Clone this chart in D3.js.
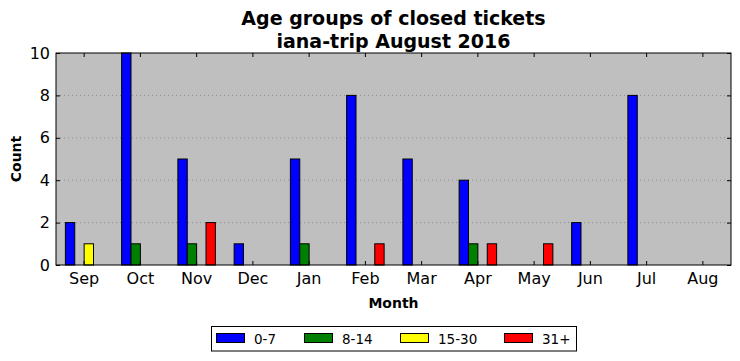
<!DOCTYPE html>
<html><head><meta charset="utf-8">
<script src="https://cdn.jsdelivr.net/npm/d3@7"></script>
<style>body{margin:0;background:#fff}svg{display:block;font-family:"DejaVu Sans",sans-serif}</style>
</head><body><svg id="c" width="740" height="361"></svg>
<script>
const months = ["Sep","Oct","Nov","Dec","Jan","Feb","Mar","Apr","May","Jun","Jul","Aug"];
const seriesNames = ["0-7","8-14","15-30","31+"];
const seriesColors = ["#0000ff","#008000","#ffff00","#ff0000"];
const age0_7   = [2,10,5,1,5,8,5,4,0,2,8,0];
const age8_14  = [0,1,1,0,1,0,0,1,0,0,0,0];
const age15_30 = [1,0,0,0,0,0,0,0,0,0,0,0];
const age31p   = [0,0,2,0,0,1,0,1,1,0,0,0];
const series = [age0_7, age8_14, age15_30, age31p];
const yTicks = [0,2,4,6,8,10];

const svg = d3.select("#c");
const L=56, R=731, T=53, B=265;
const x = d3.scaleBand().domain(months).range([L,R]).paddingInner(0).paddingOuter(0);
const bw = x.bandwidth()/6;
const y = d3.scaleLinear().domain([0,10]).range([B,T]);

svg.append("rect").attr("x",L).attr("y",T).attr("width",R-L).attr("height",B-T).attr("fill","#bfbfbf");

// grid
svg.append("g").selectAll("line").data(yTicks.filter(v=>v>0&&v<10)).join("line")
  .attr("x1",L).attr("x2",R).attr("y1",d=>y(d)).attr("y2",d=>y(d))
  .attr("stroke","#808080").attr("stroke-width",0.8).attr("stroke-dasharray","1,3");

// bars
series.forEach((vals,si)=>{
  svg.append("g").selectAll("rect").data(vals).join("rect")
    .attr("x",(d,i)=>x(months[i])+bw*(1+si))
    .attr("width",bw)
    .attr("y",d=>y(d))
    .attr("height",d=>y(0)-y(d))
    .attr("fill",seriesColors[si])
    .attr("stroke","#000").attr("stroke-width",1);
});

// frame
svg.append("rect").attr("x",L).attr("y",T).attr("width",R-L).attr("height",B-T)
  .attr("fill","none").attr("stroke","#000").attr("stroke-width",1);

// axes with inward ticks
const xb = d3.axisBottom(x).tickSize(-4).tickPadding(8);
const gx = svg.append("g").attr("transform",`translate(0,${B})`).call(xb);
gx.select(".domain").remove();
gx.selectAll("text").attr("font-size",16).attr("fill","#000").attr("font-family","DejaVu Sans");
const gxt = svg.append("g").attr("transform",`translate(0,${T})`).call(d3.axisTop(x).tickSize(-4).tickFormat(""));
gxt.select(".domain").remove();

const yl = d3.axisLeft(y).tickValues(yTicks).tickSize(-4).tickPadding(6).tickFormat(d3.format("d"));
const gy = svg.append("g").attr("transform",`translate(${L},0)`).call(yl);
gy.select(".domain").remove();
gy.selectAll("text").attr("font-size",16).attr("fill","#000").attr("font-family","DejaVu Sans");
const gyr = svg.append("g").attr("transform",`translate(${R},0)`).call(d3.axisRight(y).tickValues(yTicks).tickSize(-4).tickFormat(""));
gyr.select(".domain").remove();

// titles
const cx=(L+R)/2;
svg.append("text").attr("x",cx).attr("y",25).attr("text-anchor","middle").attr("font-size",19).attr("font-weight","bold").text("Age groups of closed tickets");
svg.append("text").attr("x",cx).attr("y",47.5).attr("text-anchor","middle").attr("font-size",19).attr("font-weight","bold").text("iana-trip August 2016");
svg.append("text").attr("x",cx).attr("y",308).attr("text-anchor","middle").attr("font-size",14).attr("font-weight","bold").text("Month");
svg.append("text").attr("transform",`translate(21,${(T+B)/2}) rotate(-90)`).attr("text-anchor","middle").attr("font-size",14).attr("font-weight","bold").text("Count");

// legend
const lg = svg.append("g");
lg.append("rect").attr("x",211.5).attr("y",326.5).attr("width",365).attr("height",24.5).attr("fill","#fff").attr("stroke","#000").attr("stroke-width",1);
const lx=[216,304,400,504];
seriesNames.forEach((n,i)=>{
  lg.append("rect").attr("x",lx[i]+0.5).attr("y",333.5).attr("width",28).attr("height",9).attr("fill",seriesColors[i]).attr("stroke","#000").attr("stroke-width",1);
  lg.append("text").attr("x",lx[i]+38).attr("y",343.5).attr("font-size",13.5).text(n);
});
</script></body></html>
